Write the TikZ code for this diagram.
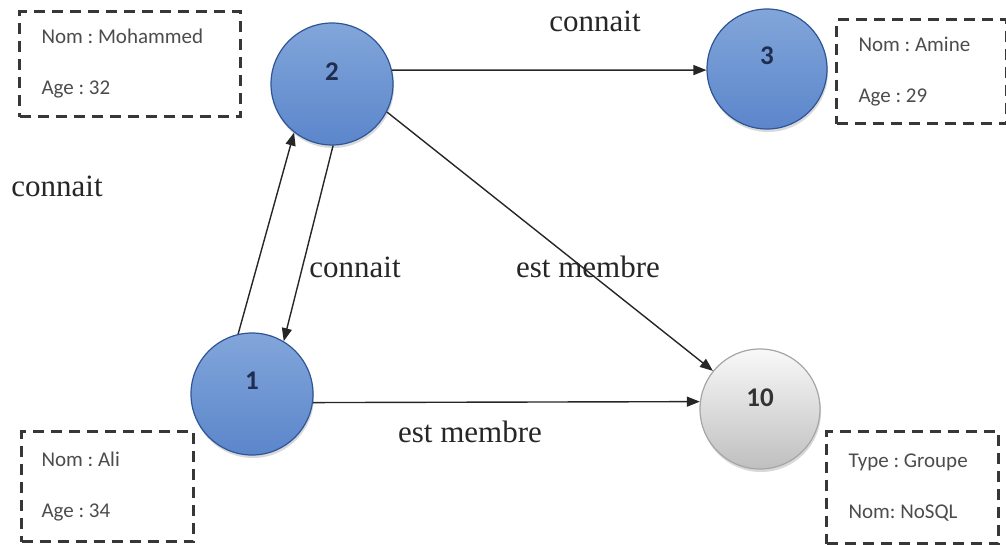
\documentclass[tikz,border=0pt]{standalone}
\usepackage{fontspec}
\setmainfont{Liberation Serif}
\newfontfamily\boxfont{Carlito}
\usepackage{tikz}
\usetikzlibrary{arrows.meta, shadows}
\definecolor{bluetop}{RGB}{130,166,218}
\definecolor{bluemid}{RGB}{68,114,196}
\definecolor{bluebot}{RGB}{91,134,203}
\definecolor{blueedge}{RGB}{47,85,151}
\definecolor{numblue}{RGB}{31,45,80}
\definecolor{boxgray}{RGB}{55,55,55}
\frenchspacing
\begin{document}
\begin{tikzpicture}[x=1pt, y=-1pt,
  bluenode/.style={circle, inner sep=0pt, minimum size=122pt,
                   top color=bluetop, middle color=bluemid, bottom color=bluebot,
                   draw=blueedge, line width=1.2pt,
                   drop shadow={shadow xshift=1pt, shadow yshift=-3pt, opacity=.3}},
  graynode/.style={circle, inner sep=0pt, minimum size=120pt,
                   top color=gray!5, middle color=gray!25, bottom color=gray!50,
                   draw=gray!70, line width=1.2pt,
                   drop shadow={shadow xshift=1pt, shadow yshift=-3pt, opacity=.3}},
  numlbl/.style={font=\boxfont\bfseries\fontsize{27}{30}\selectfont, text=numblue},
  infobox/.style={draw=boxgray, dash pattern=on 11pt off 7pt, line width=3pt,
                  anchor=north west, inner xsep=22pt, align=flush left,
                  text=black!70, font=\boxfont\frenchspacing\fontsize{21}{51}\selectfont},
  rel/.style={font=\fontsize{31}{34}\selectfont, text=black!85, anchor=base},
  arr/.style={-{Triangle[length=13pt, width=10pt]}, line width=1.4pt, draw=black!85}
]
\useasboundingbox (0,0) rectangle (1006,544);

\node[bluenode, label={[numlbl, yshift=12pt]center:2}] (n2) at (332,84) {};
\node[bluenode, minimum size=120pt, label={[numlbl, yshift=13pt]center:3}] (n3) at (767,69) {};
\node[bluenode, label={[numlbl, yshift=13pt]center:1}] (n1) at (252,394) {};
\node[graynode, label={[numlbl, text=black!80, yshift=11pt]center:10}] (n10) at (760,409) {};

\node[infobox, minimum width=221pt, minimum height=105pt, text width=177pt] (bM) at (18,10)
  {Nom : Mohammed\\Age : 32};
\node[infobox, minimum width=170pt, minimum height=104pt, text width=126pt] (bA) at (835,18)
  {Nom : Amine\\Age : 29};
\node[infobox, minimum width=172pt, minimum height=110pt, inner xsep=20pt,
      text width=132pt] (bL) at (20,430)
  {Nom : Ali\\Age : 34};
\node[infobox, minimum width=172pt, minimum height=112pt, text width=128pt] (bG) at (825,430)
  {Type : Groupe\\Nom: NoSQL};

\draw[arr] (n2.13) -- (n3.181);
\draw[arr] (n1.103) -- (n2.232);
\draw[arr] (n2.271) -- (n1.59);
\draw[arr] (n2.333) -- (n10.141);
\draw[arr] (n1.-8) -- (n10.173);

\node[rel] (lc1) at (595,31) {connait};
\node[rel] (lc2) at (57,196) {connait};
\node[rel] (lc3) at (355,277) {connait};
\node[rel] (le1) at (588,277) {est membre};
\node[rel] (le2) at (470,442) {est membre};
\end{tikzpicture}
\end{document}
